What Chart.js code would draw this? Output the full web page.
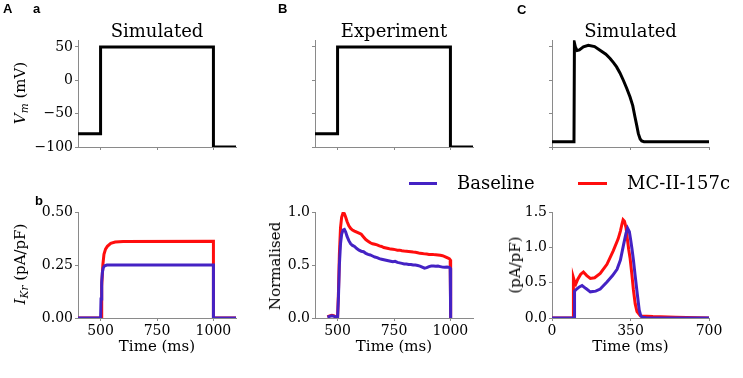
<!DOCTYPE html>
<html>
<head>
<meta charset="utf-8">
<script src="https://cdn.jsdelivr.net/npm/chart.js@4.4.1/dist/chart.umd.min.js"></script>
<style>
  body { margin: 0; background: #fff; width: 743px; height: 378px; position: relative; overflow: hidden; font-family: 'DejaVu Serif', serif; }
  canvas { position: absolute; }
  .tag { position: absolute; font: bold 13px 'Liberation Sans', Arial, sans-serif; line-height: 13px; }
  .ylab { position: absolute; font-size: 15px; line-height: 18px; white-space: nowrap; transform: translate(-50%, -50%) rotate(-90deg); }
  .ylab sub { font-size: 0.7em; vertical-align: -0.3em; }
  .sw { position: absolute; height: 3px; }
  .legt { position: absolute; font-size: 18px; line-height: 18px; white-space: nowrap; }
</style>
</head>
<body>
<canvas id="aTop" width="250" height="160" style="left:0;top:0"></canvas>
<canvas id="bTop" width="250" height="160" style="left:250px;top:0"></canvas>
<canvas id="cTop" width="243" height="160" style="left:500px;top:0"></canvas>
<canvas id="aBot" width="250" height="180" style="left:0;top:190px"></canvas>
<canvas id="bBot" width="250" height="180" style="left:250px;top:190px"></canvas>
<canvas id="cBot" width="243" height="180" style="left:500px;top:190px"></canvas>

<div class="tag" style="left:3px;top:2px">A</div>
<div class="tag" style="left:33px;top:2px">a</div>
<div class="tag" style="left:278px;top:2px">B</div>
<div class="tag" style="left:517px;top:3px">C</div>
<div class="tag" style="left:35px;top:194px">b</div>

<div class="ylab" style="left:22px;top:93px"><i>V</i><sub><i>m</i></sub> (mV)</div>
<div class="ylab" style="left:22px;top:264px"><i>I</i><sub><i>Kr</i></sub> (pA/pF)</div>
<div class="ylab" style="left:275px;top:266px">Normalised</div>
<div class="ylab" style="left:515px;top:265px">(pA/pF)</div>

<div class="sw" style="left:409px;top:182px;width:28px;background:#4422c4"></div>
<div class="legt" style="left:457px;top:174px">Baseline</div>
<div class="sw" style="left:578px;top:182px;width:29px;background:#ff0d0d"></div>
<div class="legt" style="left:627px;top:174px">MC-II-157c</div>

<script>
const SERIF = "'DejaVu Serif', serif";
const GREY = '#8a8a8a';
const BLUE = '#4422c4';
const RED = '#ff0d0d';

// voltage protocol (ms, mV)
const stepTime = [400, 500, 500, 1000, 1000, 1100];
const stepVm = [-80, -80, 50, 50, -100, -100];

// action potential clamp (ms, mV)
const apTime = [0, 98, 100, 104, 112, 122, 140, 162, 190, 214, 240, 259, 275, 288, 303, 318, 333, 348, 360, 370, 378, 385, 393, 400, 410, 700];
const apVm = [-92, -92, 56, 50, 44.5, 45.5, 50, 52.5, 50.5, 45, 39, 32.5, 26, 20, 11, 0, -12, -25, -38, -55, -68, -80, -88, -91, -92, -92];

// simulated IKr under step protocol (ms, pA/pF)
const ikrTimeBase = [400, 500, 502, 505, 508, 512, 518, 528, 1000, 1000, 1100];
const ikrBase = [0, 0, 0.09, 0.17, 0.215, 0.237, 0.246, 0.25, 0.25, 0, 0];
const ikrTimeDrug = [400, 502, 505, 510, 515, 522, 530, 545, 565, 600, 1000, 1000, 1100];
const ikrDrug = [0, 0, 0.15, 0.25, 0.3, 0.325, 0.338, 0.352, 0.358, 0.361, 0.362, 0, 0];

// experiment, normalised current
const expTime = [455, 465, 475, 485, 495, 500, 504, 508, 513, 518, 524, 530, 536, 542, 550, 558, 566, 575, 585, 595,
  605, 615, 625, 635, 645, 655, 665, 675, 685, 695, 705, 715, 725, 735, 745, 755, 765, 775, 785, 795,
  805, 815, 825, 835, 845, 855, 865, 875, 885, 895, 905, 915, 925, 935, 945, 955, 965, 975, 985, 995, 999, 1001];
const expBase = [0.01, 0.015, 0.02, 0.015, 0.005, 0, 0.2, 0.5, 0.7, 0.79, 0.83, 0.835, 0.81, 0.77, 0.73, 0.7, 0.685, 0.675, 0.655, 0.64,
  0.63, 0.625, 0.61, 0.6, 0.595, 0.585, 0.575, 0.57, 0.56, 0.555, 0.55, 0.545, 0.54, 0.535, 0.53, 0.535, 0.525, 0.52, 0.515, 0.51,
  0.51, 0.505, 0.505, 0.5, 0.5, 0.495, 0.49, 0.48, 0.47, 0.475, 0.485, 0.49, 0.49, 0.488, 0.49, 0.485, 0.48, 0.478, 0.48, 0.478, 0.47, 0];
const expDrug = [0.01, 0.02, 0.025, 0.02, 0.005, 0, 0.25, 0.6, 0.85, 0.95, 0.99, 0.985, 0.95, 0.91, 0.87, 0.845, 0.83, 0.82, 0.81, 0.8,
  0.79, 0.765, 0.74, 0.725, 0.71, 0.7, 0.695, 0.69, 0.68, 0.675, 0.665, 0.66, 0.655, 0.65, 0.648, 0.645, 0.64, 0.64, 0.635, 0.632,
  0.63, 0.628, 0.625, 0.622, 0.62, 0.615, 0.61, 0.608, 0.605, 0.603, 0.6, 0.6, 0.598, 0.597, 0.595, 0.592, 0.588, 0.58, 0.57, 0.56, 0.55, 0];

// simulated IKr under AP clamp (ms, pA/pF)
const apIkrTimeBase = [0, 100, 100.5, 110, 122, 134, 150, 171, 195, 215, 245, 270, 290, 305, 318, 330, 337, 345, 351, 357, 363, 370, 378, 384, 389, 395, 401, 420, 700];
const apIkrBase = [0, 0, 0.38, 0.41, 0.44, 0.46, 0.42, 0.37, 0.38, 0.41, 0.51, 0.6, 0.69, 0.82, 1.02, 1.2, 1.27, 1.22, 1.1, 0.97, 0.82, 0.62, 0.4, 0.24, 0.11, 0.04, 0.01, 0.003, 0];
const apIkrTimeDrug = [0, 95, 95.5, 100, 106, 115, 128, 140, 155, 171, 190, 215, 245, 273, 295, 305, 312, 317, 323, 330, 336, 342, 348, 356, 363, 371, 379, 394, 450, 550, 700];
const apIkrDrug = [0, 0, 0.57, 0.52, 0.48, 0.55, 0.62, 0.65, 0.6, 0.56, 0.57, 0.63, 0.76, 0.95, 1.12, 1.23, 1.33, 1.39, 1.37, 1.28, 1.12, 0.97, 0.85, 0.62, 0.4, 0.2, 0.09, 0.03, 0.02, 0.01, 0];

// tick values
const stepXTicks = [500, 750, 1000];
const apXTicks = [0, 350, 700];
const vmTicks = [-100, -50, 0, 50];
const ikrTicks = [0, 0.25, 0.5];
const normTicks = [0, 0.5, 1.0];
const apIkrTicks = [0, 0.5, 1.0, 1.5];

const vmFmt = v => (v < 0 ? '\u2212' : '') + Math.abs(v);

function series(t, v, color, width) {
  return {
    data: t.map((x, i) => ({ x: x, y: v[i] })),
    borderColor: color, borderWidth: width, pointRadius: 0, tension: 0, fill: false,
    borderJoinStyle: 'miter', borderCapStyle: 'butt'
  };
}

function axis(spec, horizontal, fitSize, title) {
  return {
    type: 'linear', min: spec.min, max: spec.max,
    afterBuildTicks: s => { s.ticks = spec.ticks.map(v => ({ value: v })); },
    afterFit: s => { if (horizontal) s.height = fitSize; else s.width = fitSize; },
    ticks: {
      display: !!spec.fmt, autoSkip: false, maxRotation: 0, padding: 2, color: '#000',
      font: { family: SERIF, size: 14 },
      callback: spec.fmt || (v => v)
    },
    grid: { drawOnChartArea: false, drawTicks: true, tickLength: 3, tickColor: GREY, color: GREY },
    border: { color: GREY, width: 1 },
    title: title ? {
      display: true, text: title, color: '#000',
      font: { family: SERIF, size: 15 }, padding: { top: 0, bottom: 14 }
    } : { display: false }
  };
}

function panel(p) {
  const [l, t, r, b] = p.area;
  return new Chart(document.getElementById(p.id), {
    type: 'line',
    data: { datasets: p.datasets },
    options: {
      responsive: false,
      animation: false,
      events: [],
      layout: { padding: { top: p.title ? 24 : t, right: p.w - r, left: 0, bottom: 0 } },
      plugins: {
        legend: { display: false },
        tooltip: { enabled: false },
        title: p.title ? {
          display: true, text: p.title, color: '#000', fullSize: false,
          font: { family: SERIF, size: 18, weight: 'normal', lineHeight: 0.9 }, padding: 0
        } : { display: false }
      },
      scales: {
        x: axis(p.x, true, p.h - b, p.xTitle),
        y: axis(p.y, false, l)
      }
    }
  });
}

panel({
  id: 'aTop', w: 250, h: 160, area: [78, 40, 236, 147], title: 'Simulated',
  x: { min: 400, max: 1100, ticks: stepXTicks },
  y: { min: -100, max: 60, ticks: vmTicks, fmt: vmFmt },
  datasets: [series(stepTime, stepVm, '#000', 3)]
});
panel({
  id: 'bTop', w: 250, h: 160, area: [65, 40, 223, 147], title: 'Experiment',
  x: { min: 400, max: 1100, ticks: stepXTicks },
  y: { min: -100, max: 60, ticks: vmTicks },
  datasets: [series(stepTime, stepVm, '#000', 3)]
});
panel({
  id: 'cTop', w: 243, h: 160, area: [52, 40, 209, 147], title: 'Simulated',
  x: { min: 0, max: 700, ticks: apXTicks },
  y: { min: -100, max: 60, ticks: vmTicks },
  datasets: [series(apTime, apVm, '#000', 3)]
});
panel({
  id: 'aBot', w: 250, h: 180, area: [78, 22, 236, 128], xTitle: 'Time (ms)',
  x: { min: 400, max: 1100, ticks: stepXTicks, fmt: v => String(v) },
  y: { min: 0, max: 0.5, ticks: ikrTicks, fmt: v => v.toFixed(2) },
  datasets: [series(ikrTimeBase, ikrBase, BLUE, 3), series(ikrTimeDrug, ikrDrug, RED, 3)]
});
panel({
  id: 'bBot', w: 250, h: 180, area: [65, 22, 223, 128], xTitle: 'Time (ms)',
  x: { min: 400, max: 1100, ticks: stepXTicks, fmt: v => String(v) },
  y: { min: 0, max: 1.0, ticks: normTicks, fmt: v => v.toFixed(1) },
  datasets: [series(expTime, expBase, BLUE, 3), series(expTime, expDrug, RED, 3)]
});
panel({
  id: 'cBot', w: 243, h: 180, area: [52, 22, 209, 128], xTitle: 'Time (ms)',
  x: { min: 0, max: 700, ticks: apXTicks, fmt: v => String(v) },
  y: { min: 0, max: 1.5, ticks: apIkrTicks, fmt: v => v.toFixed(1) },
  datasets: [series(apIkrTimeBase, apIkrBase, BLUE, 3), series(apIkrTimeDrug, apIkrDrug, RED, 3)]
});
</script>
</body>
</html>
